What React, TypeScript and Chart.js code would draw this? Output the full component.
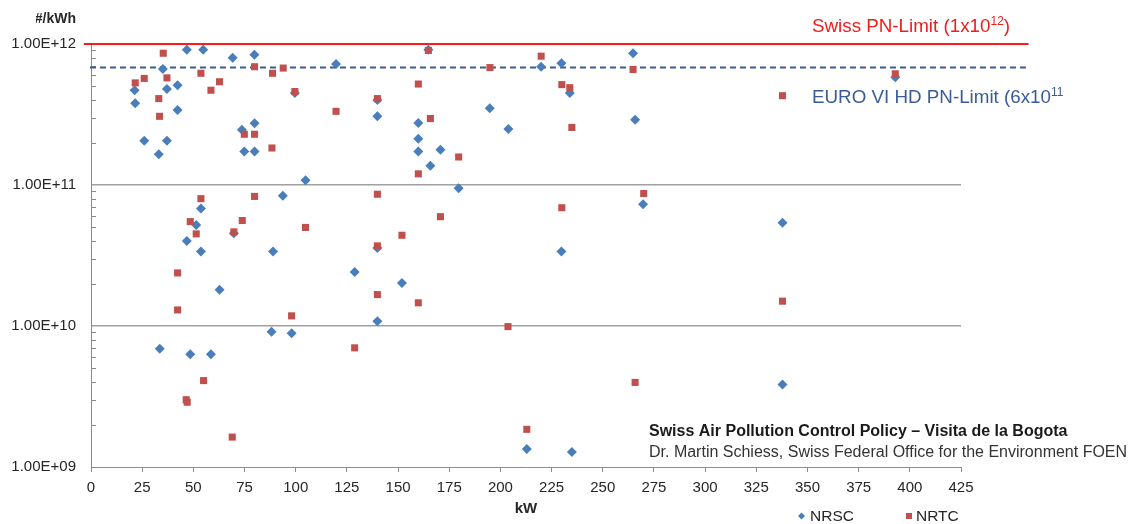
import React, { useEffect, useRef } from "react";
import { Chart, registerables } from "chart.js";

Chart.register(...registerables);

// NRSC (blue diamonds)
const nrscKW = [
  21.3, 21.6, 26, 33.1, 35.1, 37.1, 37.1, 42.3, 42.3, 46.8, 54.8, 69.2, 73.7, 74.9, 79.8, 79.9, 79.9,
  99.6, 104.8, 93.7, 119.7, 139.9, 139.9, 53.7, 51.4, 46.8, 53.7, 69.8, 88.9, 62.8, 128.8, 139.9, 139.9,
  88.2, 98, 33.6, 48.5, 58.6, 151.9, 164.8, 219.9, 229.8, 233.9, 264.8, 265.8, 159.9, 159.9, 159.9,
  170.7, 165.8, 179.6, 194.8, 203.9, 269.7, 229.8, 212.9, 234.9, 392.9, 337.8, 337.8,
];
const nrscPN = [
  4.7e11, 3.8e11, 2.06e11, 1.65e11, 6.65e11, 4.8e11, 2.06e11, 5.1e11, 3.4e11, 9.1e11, 9.1e11, 8.0e11,
  2.47e11, 1.73e11, 8.4e11, 2.74e11, 1.73e11, 4.5e11, 1.08e11, 8.4e10, 7.2e11, 4.0e11, 3.07e11, 6.8e10,
  5.2e10, 4.0e10, 3.38e10, 4.55e10, 3.38e10, 1.81e10, 2.42e10, 3.57e10, 1.08e10, 9.1e9, 8.9e9, 6.9e9,
  6.3e9, 6.3e9, 2.02e10, 9.1e11, 6.9e11, 7.3e11, 4.5e11, 8.6e11, 2.9e11, 2.75e11, 2.13e11, 1.73e11,
  1.78e11, 1.37e11, 9.5e10, 3.5e11, 2.5e11, 7.3e10, 3.38e10, 1.34e9, 1.28e9, 5.8e11, 5.4e10, 3.85e9,
];

// NRTC (red squares)
const nrtcKW = [
  21.6, 26, 33.1, 33.5, 35.3, 37.1, 53.7, 58.6, 62.8, 74.9, 79.9, 79.9, 88.4, 88.7, 93.9, 99.6, 119.7,
  139.9, 53.7, 79.9, 139.9, 48.5, 51.4, 69.8, 73.9, 104.8, 139.9, 151.9, 42.3, 42.3, 139.9, 98, 128.8,
  55, 46.5, 47, 69, 164.8, 219.9, 194.9, 230, 233.9, 264.8, 159.9, 165.8, 179.6, 159.9, 234.9, 270, 230,
  170.7, 159.9, 203.7, 265.8, 212.9, 392.9, 337.8, 337.8,
];
const nrtcPN = [
  5.3e11, 5.7e11, 4.1e11, 3.07e11, 8.6e11, 5.75e11, 6.2e11, 4.7e11, 5.4e11, 2.29e11, 2.29e11, 6.9e11,
  1.83e11, 6.2e11, 6.75e11, 4.6e11, 3.33e11, 4.1e11, 8.0e10, 8.3e10, 8.6e10, 5.5e10, 4.5e10, 4.65e10,
  5.6e10, 5.0e10, 3.7e10, 4.4e10, 2.38e10, 1.3e10, 1.67e10, 1.18e10, 7.0e9, 4.1e9, 3.0e9, 2.88e9, 1.63e9,
  9.0e11, 8.2e11, 6.8e11, 5.15e11, 4.9e11, 6.6e11, 5.2e11, 2.96e11, 1.58e11, 1.2e11, 2.56e11, 8.7e10,
  6.9e10, 5.96e10, 1.46e10, 9.9e9, 3.98e9, 1.85e9, 6.15e11, 4.3e11, 1.5e10,
];

const xTicks = [0, 25, 50, 75, 100, 125, 150, 175, 200, 225, 250, 275, 300, 325, 350, 375, 400, 425];
const yMajorTicks = [1e9, 1e10, 1e11, 1e12];
const yMinorMultipliers = [2, 3, 4, 5, 6, 7, 8, 9];

const swissLimit = 1e12;
const euroLimit = 6.8e11;
const swissLineKW = [-3.5, 458];
const euroLineKW = [-0.5, 457];

const FONT = "'Liberation Sans', Arial, sans-serif";
const BLUE = "#4a7ebb";
const RED = "#c0504d";

const fmtExp = (v: number) => {
  const e = Math.round(Math.log10(v));
  const m = v / Math.pow(10, e);
  return m.toFixed(2) + "E+" + String(e).padStart(2, "0");
};

const annotPlugin = {
  id: "annot",
  beforeDatasetsDraw(chart: any) {
    const ctx = chart.ctx;
    const y = chart.scales.y;
    const left = chart.chartArea.left;
    ctx.save();
    ctx.strokeStyle = "#8c8c8c";
    ctx.lineWidth = 1;
    for (let i = 0; i < yMajorTicks.length - 1; i++) {
      for (const m of yMinorMultipliers) {
        const py = Math.round(y.getPixelForValue(m * yMajorTicks[i])) + 0.5;
        ctx.beginPath();
        ctx.moveTo(left, py);
        ctx.lineTo(left + 5, py);
        ctx.stroke();
      }
    }
    ctx.restore();
  },
  afterDraw(chart: any) {
    const ctx = chart.ctx;
    ctx.save();
    ctx.textBaseline = "alphabetic";

    // y-axis unit title (partly hidden on the left in the original)
    ctx.save();
    ctx.beginPath();
    ctx.rect(36, 0, 200, 40);
    ctx.clip();
    ctx.font = `bold 14px ${FONT}`;
    ctx.fillStyle = "#262626";
    ctx.textAlign = "right";
    ctx.fillText("#/kWh", 76, 23);
    ctx.restore();

    ctx.textAlign = "left";
    const drawSup = (main: string, sup: string, tail: string, x: number, yb: number, color: string) => {
      ctx.fillStyle = color;
      ctx.font = `18.8px ${FONT}`;
      ctx.fillText(main, x, yb);
      let cx = x + ctx.measureText(main).width;
      ctx.font = `12px ${FONT}`;
      ctx.fillText(sup, cx, yb - 7);
      cx += ctx.measureText(sup).width;
      if (tail) {
        ctx.font = `18.8px ${FONT}`;
        ctx.fillText(tail, cx, yb);
      }
    };
    drawSup("Swiss PN-Limit (1x10", "12", ")", 812, 31.5, "#f01c1c");
    drawSup("EURO VI HD PN-Limit (6x10", "11", "", 812, 102.5, "#3a5c96");

    // footer
    ctx.font = `bold 16px ${FONT}`;
    ctx.fillStyle = "#1a1a1a";
    ctx.fillText("Swiss Air Pollution Control Policy \u2013 Visita de la Bogota", 649, 436);
    ctx.font = `16px ${FONT}`;
    ctx.fillStyle = "#333333";
    ctx.fillText("Dr. Martin Schiess, Swiss Federal Office for the Environment FOEN", 649, 457);

    // legend
    ctx.fillStyle = BLUE;
    ctx.beginPath();
    ctx.moveTo(801.5, 512.5);
    ctx.lineTo(805, 516);
    ctx.lineTo(801.5, 519.5);
    ctx.lineTo(798, 516);
    ctx.closePath();
    ctx.fill();
    ctx.fillStyle = RED;
    ctx.fillRect(906, 513, 6, 6);
    ctx.font = `15.5px ${FONT}`;
    ctx.fillStyle = "#262626";
    ctx.fillText("NRSC", 810, 521);
    ctx.fillText("NRTC", 916, 521);
    ctx.restore();
  },
};

export default function App() {
  const canvasRef = useRef<HTMLCanvasElement | null>(null);

  useEffect(() => {
    if (!canvasRef.current) return;
    const nrsc = nrscKW.map((x, i) => ({ x, y: nrscPN[i] }));
    const nrtc = nrtcKW.map((x, i) => ({ x, y: nrtcPN[i] }));
    const swiss = swissLineKW.map((x) => ({ x, y: swissLimit }));
    const euro = euroLineKW.map((x) => ({ x, y: euroLimit }));

    const chart = new Chart(canvasRef.current, {
      type: "scatter",
      data: {
        datasets: [
          {
            label: "Swiss PN-Limit",
            data: swiss,
            showLine: true,
            borderColor: "#ff1a1a",
            borderWidth: 2,
            pointRadius: 0,
            clip: false,
            order: 4,
          } as any,
          {
            label: "EURO VI HD PN-Limit",
            data: euro,
            showLine: true,
            borderColor: "#3a5c96",
            borderWidth: 2,
            borderDash: [6, 4],
            pointRadius: 0,
            clip: false,
            order: 3,
          } as any,
          {
            label: "NRSC",
            data: nrsc,
            pointStyle: "rectRot",
            pointRadius: 5,
            pointBackgroundColor: BLUE,
            pointBorderColor: BLUE,
            pointBorderWidth: 0,
            order: 2,
          },
          {
            label: "NRTC",
            data: nrtc,
            pointStyle: "rect",
            pointRadius: 5,
            pointBackgroundColor: RED,
            pointBorderColor: RED,
            pointBorderWidth: 0,
            order: 1,
          },
        ],
      },
      options: {
        animation: false,
        responsive: true,
        maintainAspectRatio: false,
        layout: { padding: { top: 44, right: 183, left: 0, bottom: 0 } },
        plugins: { legend: { display: false }, tooltip: { enabled: false } },
        scales: {
          x: {
            type: "linear",
            min: 0,
            max: 425,
            afterBuildTicks: (s: any) => {
              s.ticks = xTicks.map((v) => ({ value: v }));
            },
            afterFit: (s: any) => {
              s.height = 57;
            },
            grid: { drawOnChartArea: false, drawTicks: true, tickLength: 5, color: "#8c8c8c" },
            border: { display: true, color: "#8c8c8c", width: 1 },
            ticks: {
              font: { family: FONT, size: 15 },
              color: "#262626",
              padding: 7,
              maxRotation: 0,
              autoSkip: false,
            },
            title: {
              display: true,
              text: "kW",
              font: { family: FONT, size: 15, weight: "bold" },
              color: "#262626",
              padding: { top: 0, bottom: 6 },
            },
          },
          y: {
            type: "logarithmic",
            min: 1e9,
            max: 1e12,
            afterBuildTicks: (s: any) => {
              s.ticks = yMajorTicks.map((v) => ({ value: v }));
            },
            afterFit: (s: any) => {
              s.width = 91;
            },
            grid: {
              drawTicks: false,
              color: (c: any) =>
                c.tick && (c.tick.value === 1e10 || c.tick.value === 1e11) ? "#a0a0a0" : "rgba(0,0,0,0)",
              lineWidth: 1.5,
            },
            border: { display: true, color: "#8c8c8c", width: 1 },
            ticks: {
              font: { family: FONT, size: 15 },
              color: "#262626",
              padding: 15,
              callback: (v: any) => fmtExp(Number(v)),
            },
          },
        },
      },
      plugins: [annotPlugin],
    });
    return () => chart.destroy();
  }, []);

  return (
    <div style={{ position: "absolute", left: 0, top: 0, width: 1144, height: 524, background: "#fff" }}>
      <canvas ref={canvasRef} />
    </div>
  );
}
